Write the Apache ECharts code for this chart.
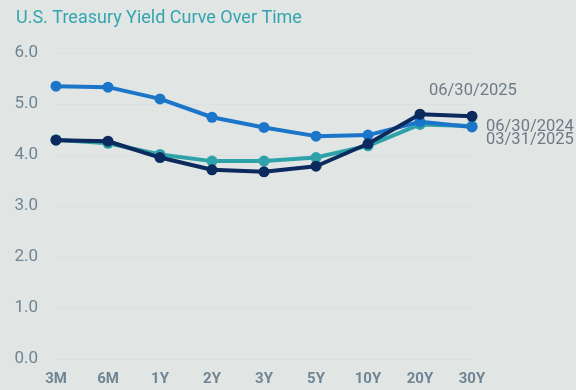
<!DOCTYPE html>
<html><head><meta charset="utf-8">
<script src="https://cdn.jsdelivr.net/npm/echarts@6/dist/echarts.min.js"></script>
<style>html,body{margin:0;padding:0;background:#e1e5e4;}#c{width:576px;height:390px;}</style>
</head><body><div id="c"></div>
<script>
const categories = ['3M','6M','1Y','2Y','3Y','5Y','10Y','20Y','30Y'];
const yTicks = [0,1,2,3,4,5,6];
const s2024 = [5.35,5.33,5.10,4.74,4.54,4.37,4.39,4.65,4.55];
const s2025Mar = [4.30,4.23,4.01,3.88,3.88,3.95,4.18,4.60,4.57];
const s2025Jun = [4.29,4.27,3.95,3.71,3.67,3.78,4.22,4.80,4.76];
const names = ['06/30/2024','03/31/2025','06/30/2025'];

const chart = echarts.init(document.getElementById('c'), null, {renderer:'canvas'});
const lblFont = {fontFamily:'Roboto', fontSize:16.5, color:'#6b7b86'};
function mk(name, data, color, z, endLabel){
  return {name, type:'line', data, z, symbol:'circle', symbolSize:11,
    lineStyle:{color, width:4}, itemStyle:{color},
    endLabel: Object.assign({show:true, formatter:name}, lblFont, endLabel),
    animation:false};
}
chart.setOption({
  backgroundColor:'#e1e5e4',
  title:{text:'U.S. Treasury Yield Curve Over Time', left:11, top:4,
    textStyle:{fontFamily:'Roboto', fontSize:18, fontWeight:'normal', color:'#34a5b0'}},
  grid:{left:56, right:104, top:53, bottom:31, containLabel:false},
  xAxis:{type:'category', data:categories, boundaryGap:false,
    axisLine:{show:false}, axisTick:{show:false},
    axisLabel:{fontFamily:'Roboto', fontSize:15, fontWeight:'bold', color:'#6f8594', margin:13}},
  yAxis:{type:'value', min:yTicks[0], max:yTicks[yTicks.length-1], interval:1,
    axisLabel:{fontFamily:'Roboto', fontSize:17, color:'#6f8594', margin:18, formatter:v=>v.toFixed(1)},
    splitLine:{lineStyle:{color:'#d8dfe6', width:1}}},
  series:[
    mk(names[1], s2025Mar, '#2ea2a8', 2, {distance:14, offset:[0,14]}),
    mk(names[0], s2024, '#1b76c9', 3, {distance:14, offset:[0,0]}),
    mk(names[2], s2025Jun, '#0b2a5e', 4, {distance:0, offset:[-43,-25]})
  ]
});
</script></body></html>
